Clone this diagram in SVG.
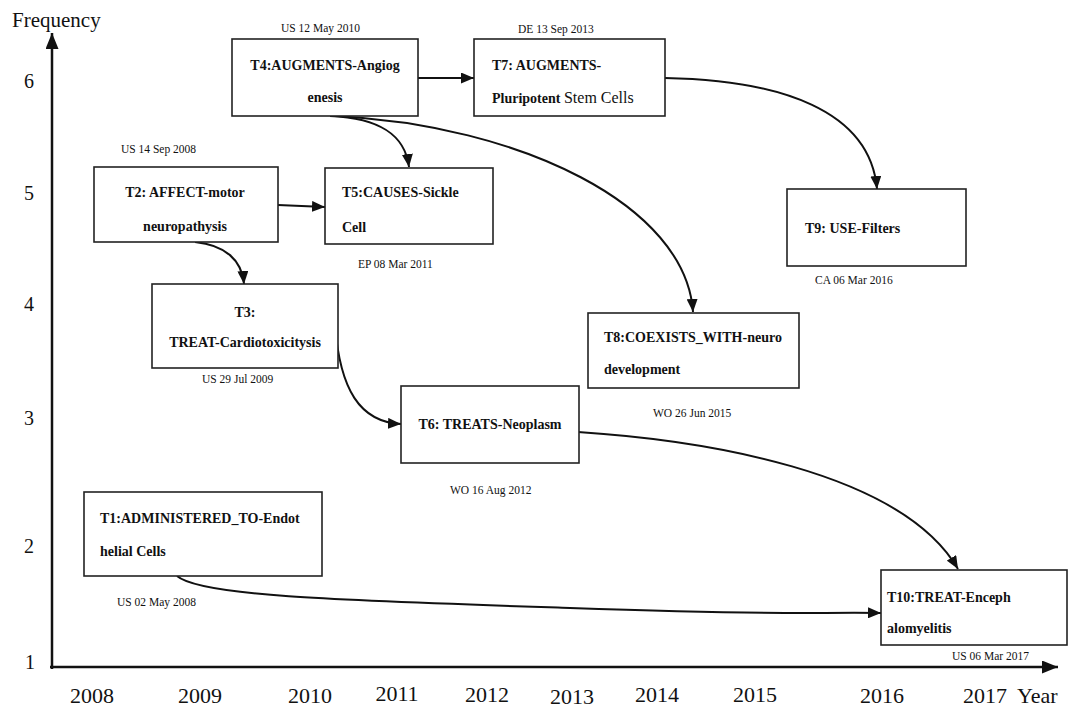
<svg xmlns="http://www.w3.org/2000/svg" width="1075" height="708" viewBox="0 0 1075 708">
<style>
.box{fill:#fff;stroke:#222;stroke-width:1.6}
.t{font-family:"Liberation Serif","Times New Roman",serif;font-weight:bold;font-size:14px;fill:#111}
.d{font-family:"Liberation Serif","Times New Roman",serif;font-size:11.5px;fill:#111}
.ax{font-family:"Liberation Serif","Times New Roman",serif;font-size:22px;fill:#111}
.yl{font-family:"Liberation Serif","Times New Roman",serif;font-size:20px;fill:#111}
.c{fill:none;stroke:#111;stroke-width:2}
.axis{fill:none;stroke:#111;stroke-width:2.5}
</style>
<defs>
<marker id="ah" markerUnits="userSpaceOnUse" markerWidth="13" markerHeight="11" refX="13" refY="5.5" orient="auto">
<path d="M0,0 L13,5.5 L0,11 z" fill="#111"/>
</marker>
<marker id="axh" markerUnits="userSpaceOnUse" markerWidth="16" markerHeight="13" refX="16" refY="6.5" orient="auto">
<path d="M0,0 L16,6.5 L0,13 z" fill="#111"/>
</marker>
</defs>

<g id="axes">
<line class="axis" x1="52" y1="669" x2="52" y2="33" marker-end="url(#axh)"/>
<line class="axis" x1="50" y1="667" x2="1058" y2="667" marker-end="url(#axh)"/>
<text class="ax" x="12" y="27" style="font-size:21px">Frequency</text>
<text class="yl" x="29" y="88" text-anchor="middle">6</text>
<text class="yl" x="29" y="200" text-anchor="middle">5</text>
<text class="yl" x="29" y="311" text-anchor="middle">4</text>
<text class="yl" x="29" y="425" text-anchor="middle">3</text>
<text class="yl" x="29" y="553" text-anchor="middle">2</text>
<text class="yl" x="30" y="669" text-anchor="middle">1</text>
<text class="ax" x="92" y="703" text-anchor="middle">2008</text>
<text class="ax" x="200" y="703" text-anchor="middle">2009</text>
<text class="ax" x="310" y="703" text-anchor="middle">2010</text>
<text class="ax" x="397" y="701" text-anchor="middle">2011</text>
<text class="ax" x="487" y="702" text-anchor="middle">2012</text>
<text class="ax" x="572" y="704" text-anchor="middle">2013</text>
<text class="ax" x="657" y="702" text-anchor="middle">2014</text>
<text class="ax" x="755" y="702" text-anchor="middle">2015</text>
<text class="ax" x="882" y="703" text-anchor="middle">2016</text>
<text class="ax" x="985" y="703" text-anchor="middle">2017</text>
<text class="ax" x="1017" y="703">Year</text>
</g>

<g id="connectors">
<line class="c" x1="418" y1="78" x2="474" y2="78" marker-end="url(#ah)"/>
<path class="c" d="M330,116 C380,118 405,135 409,167" marker-end="url(#ah)"/>
<path class="c" d="M335,116 C520,125 686,205 693,312" marker-end="url(#ah)"/>
<line class="c" x1="278" y1="205" x2="325" y2="207" marker-end="url(#ah)"/>
<path class="c" d="M195,242 C225,245 242,260 244,284" marker-end="url(#ah)"/>
<path class="c" d="M335,325 C340,390 360,422 401,424" marker-end="url(#ah)"/>
<path class="c" d="M578,432 C700,440 900,470 958,569" marker-end="url(#ah)"/>
<path class="c" d="M665,78 C780,80 870,110 877,189" marker-end="url(#ah)"/>
<path class="c" d="M177,576 C200,596 330,600 570,608 S800,612 881,613" marker-end="url(#ah)"/>
</g>

<g id="T1">
<rect class="box" x="84" y="492" width="238" height="84"/>
<text class="t" x="100" y="523">T1:ADMINISTERED_TO-Endot</text>
<text class="t" x="100" y="556">helial Cells</text>
<text class="d" x="117" y="606">US 02 May 2008</text>
</g>

<g id="T2">
<rect class="box" x="94" y="167" width="184" height="75"/>
<text class="t" x="185" y="197" text-anchor="middle">T2: AFFECT-motor</text>
<text class="t" x="185" y="231" text-anchor="middle">neuropathysis</text>
<text class="d" x="121" y="153">US 14 Sep 2008</text>
</g>

<g id="T3">
<rect class="box" x="152" y="284" width="186" height="84"/>
<text class="t" x="245" y="317" text-anchor="middle">T3:</text>
<text class="t" x="245" y="347" text-anchor="middle">TREAT-Cardiotoxicitysis</text>
<text class="d" x="202" y="383">US 29 Jul 2009</text>
</g>

<g id="T4">
<rect class="box" x="232" y="39" width="186" height="77"/>
<text class="t" x="325" y="70" text-anchor="middle">T4:AUGMENTS-Angiog</text>
<text class="t" x="325" y="102" text-anchor="middle">enesis</text>
<text class="d" x="281" y="32">US 12 May 2010</text>
</g>

<g id="T5">
<rect class="box" x="325" y="168" width="168" height="76"/>
<text class="t" x="342" y="197">T5:CAUSES-Sickle</text>
<text class="t" x="342" y="232">Cell</text>
<text class="d" x="358" y="268">EP 08 Mar 2011</text>
</g>

<g id="T6">
<rect class="box" x="401" y="386" width="178" height="77"/>
<text class="t" x="490" y="429" text-anchor="middle">T6: TREATS-Neoplasm</text>
<text class="d" x="450" y="494">WO 16 Aug 2012</text>
</g>

<g id="T7">
<rect class="box" x="474" y="39" width="191" height="77"/>
<text class="t" x="492" y="70">T7: AUGMENTS-</text>
<text class="t" x="492" y="103">Pluripotent <tspan style="font-weight:normal;font-size:16px">Stem Cells</tspan></text>
<text class="d" x="518" y="33">DE 13 Sep 2013</text>
</g>

<g id="T8">
<rect class="box" x="588" y="313" width="211" height="75"/>
<text class="t" x="604" y="342">T8:COEXISTS_WITH-neuro</text>
<text class="t" x="604" y="374">development</text>
<text class="d" x="653" y="417">WO 26 Jun 2015</text>
</g>

<g id="T9">
<rect class="box" x="787" y="189" width="179" height="77"/>
<text class="t" x="805" y="233">T9: USE-Filters</text>
<text class="d" x="815" y="284">CA 06 Mar 2016</text>
</g>

<g id="T10">
<rect class="box" x="881" y="570" width="186" height="75"/>
<text class="t" x="887" y="602">T10:TREAT-Enceph</text>
<text class="t" x="887" y="633">alomyelitis</text>
<text class="d" x="952" y="660">US 06 Mar 2017</text>
</g>
</svg>
